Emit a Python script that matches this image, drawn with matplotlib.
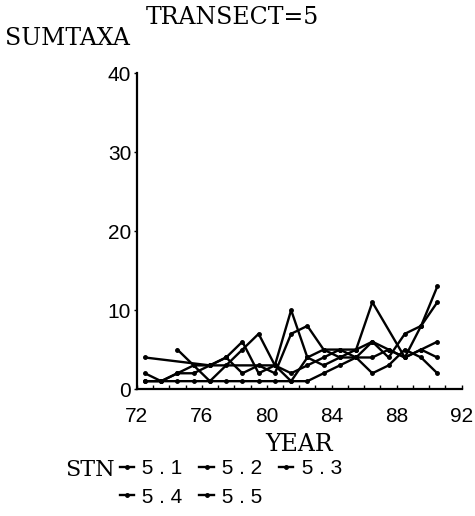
import matplotlib.pyplot as plt
from matplotlib.ticker import MultipleLocator

# sampling dates fall mid-year, so x sits between the integer year ticks
years = [72.5, 73.5, 74.5, 75.5, 76.5, 77.5, 78.5, 79.5, 80.5, 81.5,
         82.5, 83.5, 84.5, 85.5, 86.5, 87.5, 88.5, 89.5, 90.5]

yr_51 = [72.5, 76.5, 80.5, 81.5, 82.5, 83.5, 84.5, 85.5, 86.5, 88.5, 89.5, 90.5]
stn_51 = [4, 3, 3, 10, 4, 5, 5, 5, 11, 4, 8, 11]

yr_52 = years
stn_52 = [1, 1, 1, 1, 1, 1, 1, 1, 1, 1, 1, 2, 3, 4, 4, 5, 4, 5, 4]

yr_53 = years
stn_53 = [2, 1, 2, 2, 3, 4, 6, 2, 3, 2, 3, 4, 5, 4, 2, 3, 5, 4, 2]

yr_54 = years[2:]
stn_54 = [5, 3, 1, 3, 5, 7, 3, 1, 4, 3, 4, 4, 6, 5, 4, 5, 6]

yr_55 = years
stn_55 = [1, 1, 2, 3, 3, 4, 2, 3, 2, 7, 8, 5, 4, 5, 6, 4, 7, 8, 13]

labels = ['5.1', '5.2', '5.3', '5.4', '5.5']
series = [(yr_51, stn_51), (yr_52, stn_52), (yr_53, stn_53),
          (yr_54, stn_54), (yr_55, stn_55)]

slab = 'DejaVu Serif'
sans = 'Liberation Sans'

fig = plt.figure(figsize=(4.75, 5.16), dpi=100)
ax = fig.add_axes([0.288, 0.246, 0.684, 0.612])

handles = []
for (x, y), lab in zip(series, labels):
    h, = ax.plot(x, y, color='black', lw=1.7, marker='o', ms=2.5,
                 label=' ' + ' '.join(lab))
    handles.append(h)

ax.set_xlim(72, 92)
ax.set_ylim(0, 40)
ax.xaxis.set_major_locator(MultipleLocator(4))
ax.xaxis.set_minor_locator(MultipleLocator(1))
ax.yaxis.set_major_locator(MultipleLocator(10))

for s in ['top', 'right']:
    ax.spines[s].set_visible(False)
for s in ['left', 'bottom']:
    ax.spines[s].set_linewidth(1.6)

ax.tick_params(axis='x', which='both', direction='in', length=3, width=1,
               pad=13, labelsize=15)
ax.tick_params(axis='y', which='both', direction='out', length=2, width=1,
               pad=2, labelsize=15)
for t in ax.get_xticklabels() + ax.get_yticklabels():
    t.set_family(sans)

fig.text(0.49, 0.966, 'TRANSECT=5', family=slab, fontsize=17,
         ha='center', va='center')
fig.text(0.01, 0.926, 'SUMTAXA', family=slab, fontsize=17,
         ha='left', va='center')
ax.set_xlabel('YEAR', family=slab, fontsize=17, labelpad=5)

fig.text(0.137, 0.089, 'STN', family=slab, fontsize=16,
         ha='left', va='center')
order = [0, 3, 1, 4, 2]
leg = fig.legend([handles[i] for i in order],
                 [handles[i].get_label() for i in order],
                 ncol=3, frameon=False, loc='upper left',
                 bbox_to_anchor=(0.252, 0.11), prop={'family': sans, 'size': 15},
                 handlelength=0.7, handletextpad=0.1, columnspacing=0.8,
                 labelspacing=0.45, borderaxespad=0, borderpad=0)

fig.savefig('out.png', dpi=100)
